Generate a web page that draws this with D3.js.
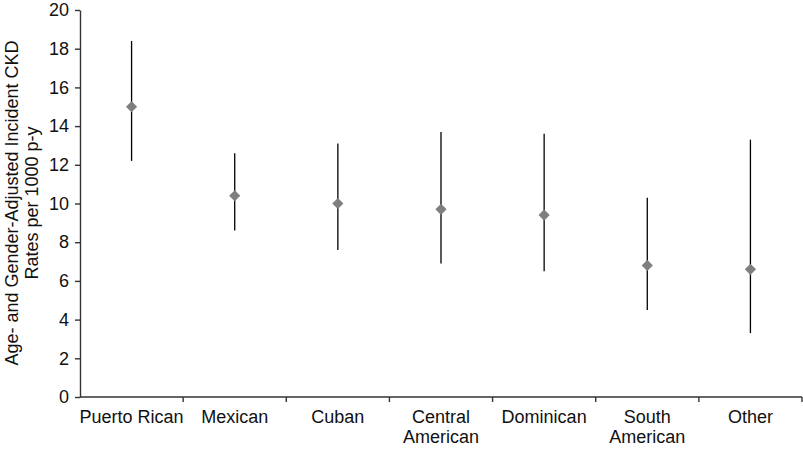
<!doctype html>
<html>
<head>
	<meta charset="utf-8">
	<title></title>
	<style>
		body { margin: 0; background: #fff; }
		svg { display: block; font-family: "Liberation Sans", Arial, sans-serif; }
		.axis path, .axis line { stroke: #333; stroke-width: 1.4; }
		.axis text { font-size: 18px; fill: #111; }
		.whisker { stroke: #000; stroke-width: 1.3; }
		.point { fill: #7f7f7f; }
	</style>
</head>
<body>

	<svg width="803" height="449"></svg>

	<script src="https://d3js.org/d3.v7.min.js"></script>
	<script>

		const groups = [ "Puerto Rican", "Mexican", "Cuban", "Central American", "Dominican", "South American", "Other" ];
		const rates = [ 15.0, 10.4, 10.0, 9.7, 9.4, 6.8, 6.6 ];
		const lower = [ 12.2, 8.6, 7.6, 6.9, 6.5, 4.5, 3.3 ];
		const upper = [ 18.4, 12.6, 13.1, 13.7, 13.6, 10.3, 13.3 ];
		const y_ticks = [ 0, 2, 4, 6, 8, 10, 12, 14, 16, 18, 20 ];

		const svg = d3.select( "svg" );

		const x = d3.scaleBand()
				.domain( groups )
				.range( [ 80, 802 ] );

		const y = d3.scaleLinear()
				.domain( [ 0, 20 ] )
				.range( [ 397, 10 ] );

		// y axis
		svg.append( "g" )
			.attr( "class", "axis" )
			.attr( "transform", "translate(80,0)" )
			.call( d3.axisLeft( y ).tickValues( y_ticks ).tickSize( 5 ).tickSizeOuter( 0 ).tickPadding( 6 ) );

		// x axis, ticks sit on the category borders
		const xa = svg.append( "g" )
			.attr( "class", "axis" )
			.attr( "transform", "translate(0,397)" );

		xa.append( "line" )
			.attr( "x1", 80 ).attr( "x2", 802 );

		xa.selectAll( ".tick-b" )
			.data( groups )
			.enter().append( "line" )
				.attr( "x1", d => x( d ) + x.bandwidth() )
				.attr( "x2", d => x( d ) + x.bandwidth() )
				.attr( "y1", 0 ).attr( "y2", 5 );

		xa.selectAll( ".lbl" )
			.data( groups )
			.enter().append( "text" )
				.attr( "text-anchor", "middle" )
				.attr( "x", d => x( d ) + x.bandwidth() / 2 )
				.attr( "y", 26 )
				.each( function( d ) {
					const lines = ( d === "Puerto Rican" ) ? [ d ] : d.split( " " );
					d3.select( this ).selectAll( "tspan" )
						.data( lines )
						.enter().append( "tspan" )
							.attr( "x", x( d ) + x.bandwidth() / 2 )
							.attr( "dy", ( l, j ) => j === 0 ? 0 : 20 )
							.text( l => l );
				});

		// y title
		svg.append( "text" )
			.attr( "transform", "translate(18,203) rotate(-90)" )
			.attr( "text-anchor", "middle" )
			.style( "font-size", "18px" )
			.style( "fill", "#111" )
			.selectAll( "tspan" )
			.data( [ "Age- and Gender-Adjusted Incident CKD", "Rates per 1000 p-y" ] )
			.enter().append( "tspan" )
				.attr( "x", 0 )
				.attr( "dy", ( d, i ) => i === 0 ? 0 : 20 )
				.text( d => d );

		// confidence intervals
		svg.selectAll( ".whisker" )
			.data( groups )
			.enter().append( "line" )
				.attr( "class", "whisker" )
				.attr( "x1", d => x( d ) + x.bandwidth() / 2 )
				.attr( "x2", d => x( d ) + x.bandwidth() / 2 )
				.attr( "y1", ( d, i ) => y( lower[ i ] ) )
				.attr( "y2", ( d, i ) => y( upper[ i ] ) );

		// point estimates
		svg.selectAll( ".point" )
			.data( groups )
			.enter().append( "path" )
				.attr( "class", "point" )
				.attr( "d", d3.symbol( d3.symbolDiamond2, 80 ) )
				.attr( "transform", ( d, i ) => "translate(" + ( x( d ) + x.bandwidth() / 2 ) + "," + y( rates[ i ] ) + ")" );

	</script>

</body>
</html>
